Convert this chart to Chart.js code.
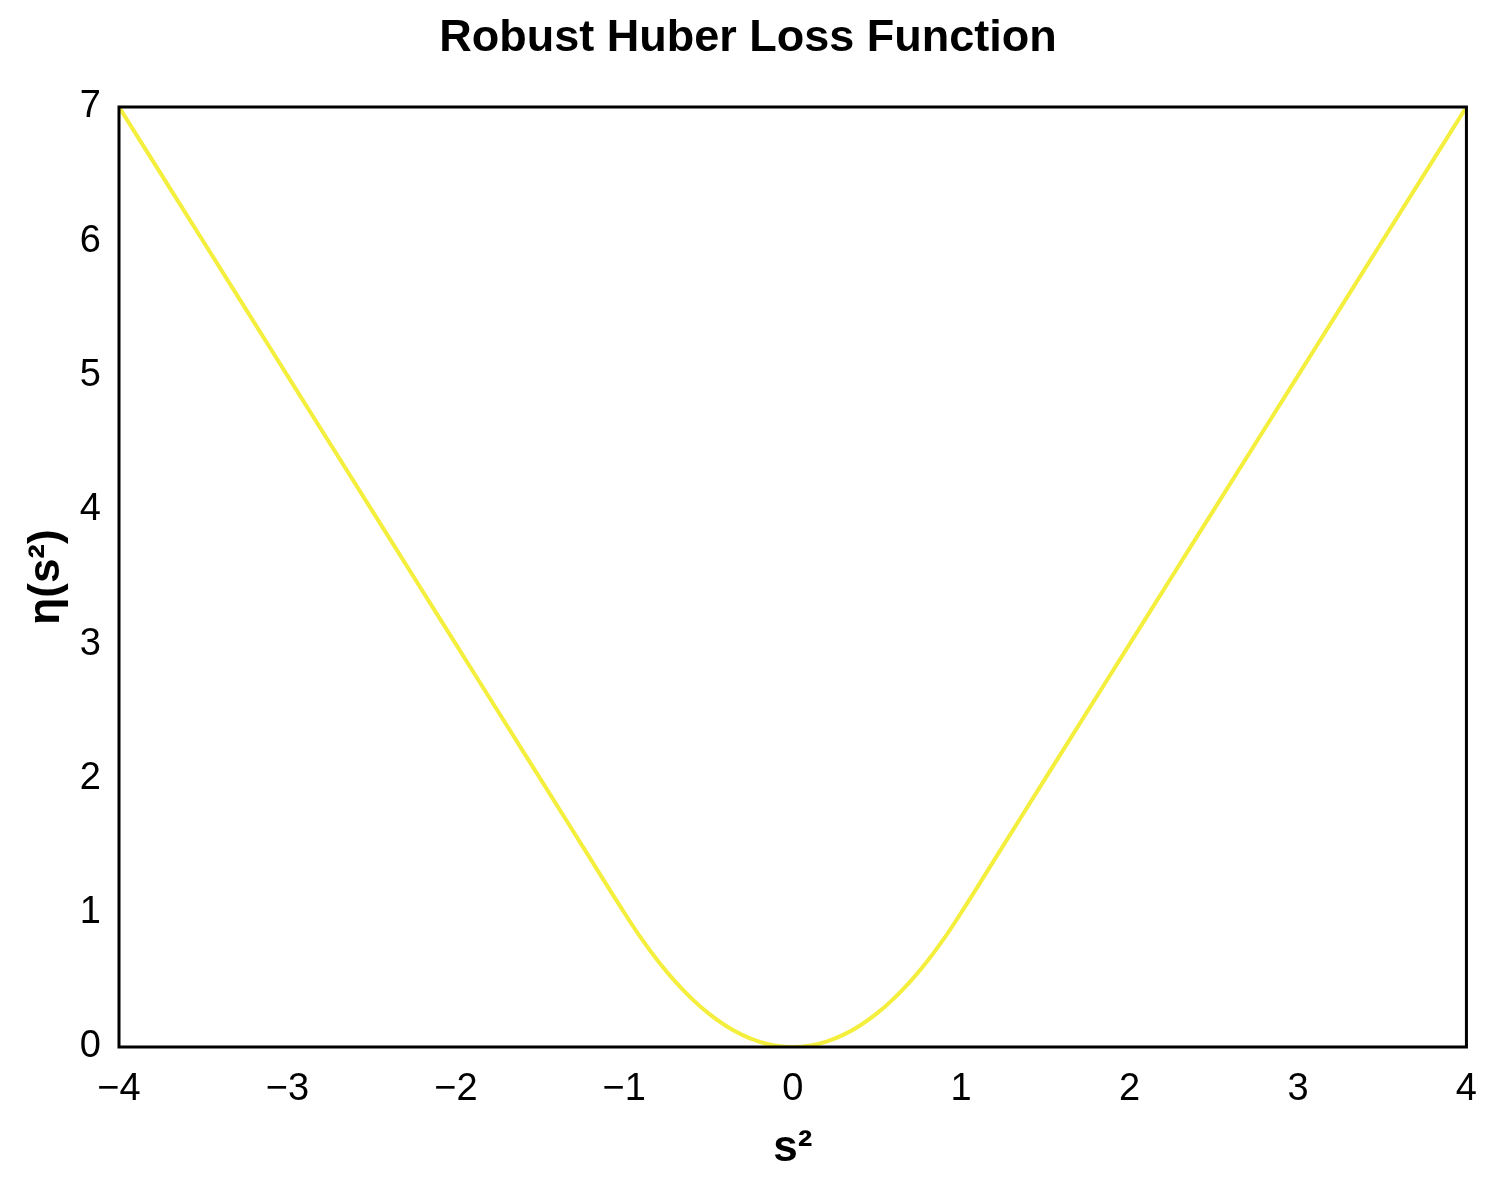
<!DOCTYPE html>
<html>
<head>
<meta charset="utf-8">
<script src="https://cdn.jsdelivr.net/npm/chart.js@4/dist/chart.umd.min.js"></script>
<style>
  html, body { margin: 0; padding: 0; background: #ffffff; }
  #wrap { width: 1497px; height: 1187px; }
</style>
</head>
<body>
<div id="wrap"><canvas id="c" width="1497" height="1187"></canvas></div>
<script>
const chartTitle = 'Robust Huber Loss Function';
const xAxisTitle = 's\u00B2';
const yAxisTitle = '\u03B7(s\u00B2)';

const sValues = [-4, -3.75, -3.5, -3.25, -3, -2.75, -2.5, -2.25, -2, -1.75, -1.5, -1.25, -1,
  -0.9, -0.8, -0.7, -0.6, -0.5, -0.4, -0.3, -0.2, -0.1, 0, 0.1, 0.2, 0.3, 0.4, 0.5, 0.6, 0.7, 0.8, 0.9,
  1, 1.25, 1.5, 1.75, 2, 2.25, 2.5, 2.75, 3, 3.25, 3.5, 3.75, 4];
const lossValues = [7, 6.5, 6, 5.5, 5, 4.5, 4, 3.5, 3, 2.5, 2, 1.5, 1,
  0.81, 0.64, 0.49, 0.36, 0.25, 0.16, 0.09, 0.04, 0.01, 0, 0.01, 0.04, 0.09, 0.16, 0.25, 0.36, 0.49, 0.64, 0.81,
  1, 1.5, 2, 2.5, 3, 3.5, 4, 4.5, 5, 5.5, 6, 6.5, 7];

const xTicks = [-4, -3, -2, -1, 0, 1, 2, 3, 4];
const yTicks = [0, 1, 2, 3, 4, 5, 6, 7];

const points = sValues.map((s, i) => ({ x: s, y: lossValues[i] }));

const boxPlugin = {
  id: 'box',
  afterDraw(chart) {
    const { ctx, chartArea: a } = chart;
    ctx.save();
    ctx.strokeStyle = '#000';
    ctx.lineWidth = 3;
    ctx.strokeRect(a.left, a.top, a.right - a.left, a.bottom - a.top);
    ctx.restore();
  }
};

new Chart(document.getElementById('c'), {
  type: 'line',
  data: {
    datasets: [{
      data: points,
      borderColor: 'rgb(244,238,60)',
      borderWidth: 4,
      pointRadius: 0,
      fill: false,
      cubicInterpolationMode: 'monotone'
    }]
  },
  options: {
    responsive: false,
    animation: false,
    layout: { padding: { left: 15, right: 16, top: 0, bottom: 0 } },
    plugins: {
      legend: { display: false },
      tooltip: { enabled: false },
      title: {
        display: true,
        text: chartTitle,
        color: '#000',
        font: { family: 'Liberation Sans', size: 45, weight: 'bold', lineHeight: 1.2 },
        padding: { top: 12, bottom: 41 }
      }
    },
    scales: {
      x: {
        type: 'linear',
        min: -4, max: 4,
        afterFit(scale) { scale.height = 140; },
        afterBuildTicks(scale) { scale.ticks = xTicks.map(v => ({ value: v })); },
        grid: { display: false, drawTicks: false },
        border: { display: false },
        ticks: {
          color: '#000',
          padding: 20,
          maxRotation: 0,
          font: { family: 'Liberation Sans', size: 38 },
          callback: v => String(v).replace('-', '\u2212')
        },
        title: {
          display: true,
          text: xAxisTitle,
          color: '#000',
          font: { family: 'Liberation Sans', size: 44, weight: 'bold', lineHeight: 1.2 },
          padding: { top: 0, bottom: 12 }
        }
      },
      y: {
        type: 'linear',
        min: 0, max: 7,
        afterFit(scale) { scale.width = 104; },
        afterBuildTicks(scale) { scale.ticks = yTicks.map(v => ({ value: v })); },
        grid: { display: false, drawTicks: false },
        border: { display: false },
        ticks: {
          color: '#000',
          padding: 18,
          font: { family: 'Liberation Sans', size: 38 }
        },
        title: {
          display: true,
          text: yAxisTitle,
          color: '#000',
          font: { family: 'Liberation Sans', size: 44, weight: 'bold', lineHeight: 1.2 },
          padding: { top: 5, bottom: 0 }
        }
      }
    }
  },
  plugins: [boxPlugin]
});
</script>
</body>
</html>
